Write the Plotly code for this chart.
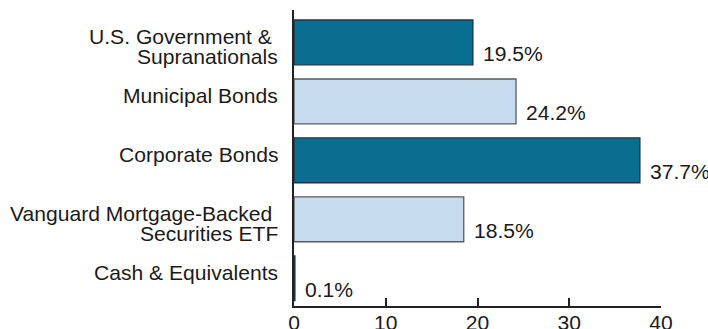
import plotly.graph_objects as go

# Portfolio sector allocation (% of net assets)
categories = [
    "U.S. Government &\u00a0<br>Supranationals",
    "Municipal Bonds",
    "Corporate Bonds",
    "Vanguard Mortgage-Backed\u00a0<br>Securities ETF",
    "Cash & Equivalents",
]
values = [19.5, 24.2, 37.7, 18.5, 0.1]
value_labels = ["19.5%", "24.2%", "37.7%", "18.5%", "0.1%"]
x_ticks = [0, 10, 20, 30, 40]

DARK = "#0a6e90"
LIGHT = "#c6dcee"
FONT = "Liberation Sans, Arial, sans-serif"
TEXT = "#1a1a1a"
SIZE = 21.1

fill_colors = [DARK if i % 2 == 0 else LIGHT for i in range(len(values))]
line_colors = ["#1f3440" if i % 2 == 0 else "#5a5a5a" for i in range(len(values))]

positions = list(range(len(categories)))

fig = go.Figure(
    go.Bar(
        x=values,
        y=positions,
        orientation="h",
        marker=dict(color=fill_colors, line=dict(color=line_colors, width=1.3)),
        width=0.76,
        hoverinfo="skip",
    )
)

annotations = []
# value labels just right of each bar end, sitting a little low
for p, v, lab in zip(positions, values, value_labels):
    annotations.append(dict(
        x=v, y=p, xref="x", yref="y", text=lab, showarrow=False,
        xanchor="left", yanchor="middle", xshift=8, yshift=-11.5,
        font=dict(family=FONT, size=SIZE, color=TEXT),
    ))

# category labels, one annotation per line for tight line spacing
for p, cat in zip(positions, categories):
    for i, line in enumerate(cat.split("<br>")):
        annotations.append(dict(
            x=0, y=p, xref="paper", yref="y", text=line, showarrow=False,
            xanchor="right", yanchor="middle", xshift=-14, yshift=5.5 - 20 * i,
            font=dict(family=FONT, size=SIZE, color=TEXT),
        ))

fig.update_layout(
    width=708, height=329,
    margin=dict(l=294, r=47, t=10, b=23, autoexpand=False),
    paper_bgcolor="white", plot_bgcolor="white",
    showlegend=False,
    annotations=annotations,
    font=dict(family=FONT, size=SIZE, color=TEXT),
    xaxis=dict(
        range=[0, 40], tickvals=x_ticks, ticktext=[str(t) for t in x_ticks],
        showgrid=False, zeroline=False, automargin=False,
        showline=True, linecolor="#222", linewidth=2,
        ticks="inside", ticklen=8, tickwidth=2, tickcolor="#222",
        tickfont=dict(family=FONT, size=SIZE, color=TEXT),
        ticklabelstandoff=-3,
    ),
    yaxis=dict(
        range=[4.47, -0.55], showticklabels=False, showgrid=False, zeroline=False,
        automargin=False,
        showline=True, linecolor="#222", linewidth=2, ticks="",
    ),
)

fig.write_html("out.html")
